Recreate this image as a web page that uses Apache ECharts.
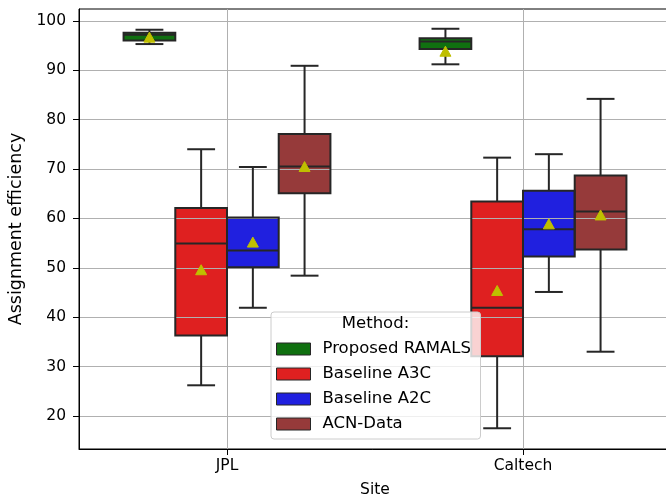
<!DOCTYPE html>
<html><head><meta charset="utf-8">
<script src="https://cdn.jsdelivr.net/npm/echarts@6/dist/echarts.min.js"></script>
<style>html,body{margin:0;padding:0;background:#fff}#c{width:666px;height:499px}</style>
</head><body><div id="c"></div>
<script>
// ---- data ----
const sites = ['JPL', 'Caltech'];
const methods = ['Proposed RAMALS', 'Baseline A3C', 'Baseline A2C', 'ACN-Data'];
// [lower whisker, Q1, median, Q3, upper whisker] per site
const ramalsStats = [[95.3, 96.0, 97.2, 97.6, 98.2], [91.2, 94.3, 95.8, 96.5, 98.4]];
const a3cStats    = [[26.2, 36.3, 54.9, 62.1, 74.0], [17.5, 32.1, 41.9, 63.4, 72.3]];
const a2cStats    = [[41.9, 50.1, 53.5, 60.2, 70.4], [45.1, 52.3, 57.8, 65.6, 73.0]];
const acnStats    = [[48.4, 65.1, 70.5, 77.1, 90.9], [33.0, 53.7, 61.4, 68.7, 84.2]];
// means per site
const ramalsMean = [96.7, 93.85];
const a3cMean    = [49.6, 45.4];
const a2cMean    = [55.2, 58.9];
const acnMean    = [70.5, 60.7];
const yTicks = [20, 30, 40, 50, 60, 70, 80, 90, 100];

// ---- styling ----
const colors = ['#107010', '#df2020', '#2020df', '#963a3a'];
const EDGE = '#262626';
const MEAN = '#bfbf00';
const FONT = 'DejaVu Sans';
const allStats = [ramalsStats, a3cStats, a2cStats, acnStats];
const allMeans = [ramalsMean, a3cMean, a2cMean, acnMean];

function rows(m) {
  return sites.map((s, i) => [i].concat(allStats[m][i], [allMeans[m][i]]));
}
function geom(api, m) {
  const cat = api.value(0);
  const band = api.size([1, 0])[0];
  const bw = band * 0.1747;
  const cx = api.coord([cat, api.value(3)])[0] + (m - 1.5) * bw;
  const y = k => api.coord([cat, api.value(k)])[1];
  return { cx, bw, low: y(1), q1: y(2), med: y(3), q3: y(4), high: y(5), mean: y(6) };
}
function fillItem(m) {
  return function (params, api) {
    const g = geom(api, m);
    return { type: 'rect', shape: { x: g.cx - g.bw / 2, y: g.q3, width: g.bw, height: g.q1 - g.q3 },
      style: { fill: colors[m], stroke: null } };
  };
}
function lineEl(x1, y1, x2, y2, cap) {
  return { type: 'line', shape: { x1, y1, x2, y2 },
    style: { stroke: EDGE, lineWidth: 2, lineCap: cap || 'butt' } };
}
function overlayItem(m) {
  return function (params, api) {
    const g = geom(api, m);
    const h = g.bw / 4;
    return { type: 'group', children: [
      lineEl(g.cx, g.q1, g.cx, g.low),
      lineEl(g.cx, g.q3, g.cx, g.high),
      lineEl(g.cx - h, g.low, g.cx + h, g.low, 'square'),
      lineEl(g.cx - h, g.high, g.cx + h, g.high, 'square'),
      { type: 'rect', shape: { x: g.cx - g.bw / 2, y: g.q3, width: g.bw, height: g.q1 - g.q3 },
        style: { fill: null, stroke: EDGE, lineWidth: 2, lineJoin: 'miter' } },
      lineEl(g.cx - g.bw / 2, g.med, g.cx + g.bw / 2, g.med),
      { type: 'polygon', shape: { points: [[g.cx, g.mean - 5], [g.cx - 5.5, g.mean + 5], [g.cx + 5.5, g.mean + 5]] },
        style: { fill: MEAN, stroke: MEAN, lineWidth: 1 } }
    ] };
  };
}

const series = [];
methods.forEach((name, m) => {
  series.push({ type: 'custom', name: name, z: 1, data: rows(m), renderItem: fillItem(m),
    encode: { x: 0, y: [1, 2, 3, 4, 5, 6] },
    itemStyle: { color: colors[m], borderColor: EDGE, borderWidth: 1 } });
});
methods.forEach((name, m) => {
  series.push({ type: 'custom', name: name + ' (lines)', z: 3, data: rows(m), renderItem: overlayItem(m),
    encode: { x: 0, y: [1, 2, 3, 4, 5, 6] } });
});

const chart = echarts.init(document.getElementById('c'), null, { renderer: 'canvas' });
chart.setOption({
  animation: false,
  backgroundColor: '#ffffff',
  grid: { left: 79, right: -5, top: 9, bottom: 50, containLabel: false, outerBoundsMode: 'none',
    show: true, borderColor: '#000', borderWidth: 1, backgroundColor: 'transparent' },
  xAxis: {
    type: 'category', data: sites, boundaryGap: true, z: 2,
    axisLine: { show: true, lineStyle: { color: '#000', width: 1 } },
    axisTick: { show: true, alignWithLabel: true, length: 6, lineStyle: { color: '#000', width: 1 } },
    axisLabel: { fontFamily: FONT, fontSize: 15.5, color: '#000', margin: 9 },
    splitLine: { show: true, alignWithLabel: true, lineStyle: { color: '#b0b0b0', width: 1 } },
    name: 'Site', nameLocation: 'middle', nameGap: 33,
    nameTextStyle: { fontFamily: FONT, fontSize: 15.5, color: '#000' }
  },
  yAxis: {
    type: 'value', min: 13.3, max: 102.4, splitNumber: 9, minInterval: 10, maxInterval: 10, z: 2,
    axisLine: { show: true, lineStyle: { color: '#000', width: 1 } },
    axisTick: { show: true, length: 6, customValues: yTicks, lineStyle: { color: '#000', width: 1 } },
    axisLabel: { fontFamily: FONT, fontSize: 15.5, color: '#000', margin: 13, customValues: yTicks },
    splitLine: { show: true, lineStyle: { color: '#b0b0b0', width: 1 } },
    name: 'Assignment efficiency', nameLocation: 'middle', nameGap: 44,
    nameTextStyle: { fontFamily: FONT, fontSize: 17.5, color: '#000' }
  },
  legend: {
    data: methods, orient: 'vertical', left: 271, top: 312, z: 4,
    icon: 'rect', itemWidth: 34, itemHeight: 12, itemGap: 7,
    padding: [28, 8, 6, 5],
    backgroundColor: 'rgba(255,255,255,0.8)', borderColor: '#cccccc', borderWidth: 1, borderRadius: 3,
    textStyle: { fontFamily: FONT, fontSize: 16.5, color: '#000', lineHeight: 18, width: 150, padding: [0, 0, 0, 7] },
    itemStyle: { borderColor: EDGE, borderWidth: 1 },
    selectedMode: false
  },
  graphic: [{ type: 'text', z: 10, x: 375.5, y: 324,
    style: { text: 'Method:', fontFamily: FONT, fontSize: 16.5, fill: '#000', align: 'center', verticalAlign: 'middle' } }],
  series: series
});
</script></body></html>
